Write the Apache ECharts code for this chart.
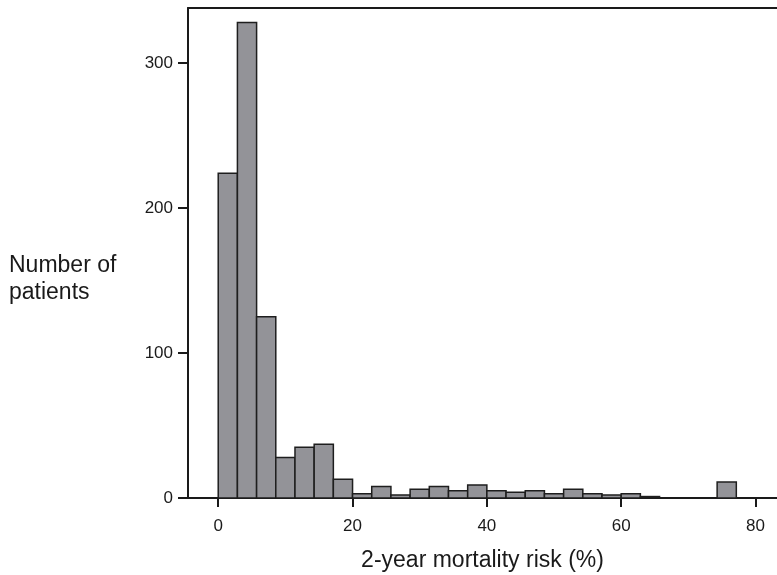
<!DOCTYPE html>
<html>
<head>
<meta charset="utf-8">
<title>2-year mortality risk histogram</title>
<script src="https://cdn.jsdelivr.net/npm/echarts@6/dist/echarts.min.js"></script>
<style>
  html, body { margin: 0; padding: 0; background: #ffffff; }
  #chart { width: 777px; height: 575px; }
</style>
</head>
<body>
<div id="chart"></div>
<script>
// Histogram: 28 equal bins spanning 0–80 % risk
const binCount = 28;
const riskMax = 80;
const patientCounts = [
  224, 328, 125, 28, 35, 37, 13,
  3, 8, 2, 6, 8, 5, 9,
  5, 4, 5, 3, 6, 3, 2,
  3, 1, 0, 0, 0, 11, 0
];
const xTickValues = [0, 20, 40, 60, 80];
const yTickValues = [0, 100, 200, 300];
const xTitle = '2-year mortality risk (%)';
const yTitle = 'Number of\npatients';

const binWidth = riskMax / binCount;
const binData = patientCounts.map((count, i) => [i * binWidth, (i + 1) * binWidth, count]);

const ink = '#1a1a1a';
const fontFamily = '"Liberation Sans", Arial, Helvetica, sans-serif';

const chart = echarts.init(document.getElementById('chart'), null, { renderer: 'canvas' });

const xRange = { min: -4.5, max: 83.2 };

chart.setOption({
  animation: false,
  backgroundColor: '#ffffff',
  grid: {
    left: 188, top: 8, right: 0, bottom: 77,
    containLabel: false,
    outerBoundsMode: 'none'
  },
  xAxis: [
    {
      type: 'value',
      min: xRange.min,
      max: xRange.max,
      position: 'bottom',
      name: xTitle,
      nameLocation: 'middle',
      nameGap: 51,
      nameTextStyle: { fontFamily, fontSize: 23, color: ink },
      axisLine: { show: true, onZero: false, lineStyle: { color: ink, width: 2 } },
      axisTick: { show: true, customValues: xTickValues, length: 9, lineStyle: { color: ink, width: 2 } },
      axisLabel: {
        show: true, customValues: xTickValues, margin: 20,
        fontFamily, fontSize: 17, color: ink
      },
      splitLine: { show: false }
    },
    {
      // plain frame line along the top of the plot
      type: 'value',
      min: xRange.min,
      max: xRange.max,
      position: 'top',
      axisLine: { show: true, onZero: false, lineStyle: { color: ink, width: 2 } },
      axisTick: { show: false },
      axisLabel: { show: false },
      splitLine: { show: false }
    }
  ],
  yAxis: {
    type: 'value',
    min: 0,
    max: 338,
    axisLine: { show: true, onZero: false, lineStyle: { color: ink, width: 2 } },
    axisTick: { show: true, customValues: yTickValues, length: 10, lineStyle: { color: ink, width: 2 } },
    axisLabel: {
      show: true, customValues: yTickValues, margin: 15,
      fontFamily, fontSize: 17, color: ink
    },
    splitLine: { show: false }
  },
  graphic: [
    {
      type: 'text',
      left: 9,
      top: 252,
      style: {
        text: yTitle,
        fontFamily,
        fontSize: 23,
        lineHeight: 27,
        fill: ink,
        textAlign: 'left'
      }
    }
  ],
  series: [
    {
      type: 'custom',
      xAxisIndex: 0,
      yAxisIndex: 0,
      data: binData,
      encode: { x: [0, 1], y: 2 },
      renderItem: function (params, api) {
        const count = api.value(2);
        if (!count) return null;
        const base = api.coord([api.value(0), 0]);
        const top = api.coord([api.value(1), count]);
        return {
          type: 'rect',
          shape: {
            x: base[0],
            y: top[1],
            width: top[0] - base[0],
            height: base[1] - top[1]
          },
          style: {
            fill: '#939398',
            stroke: '#1e1e1e',
            lineWidth: 1.5
          }
        };
      }
    }
  ]
});
</script>
</body>
</html>
